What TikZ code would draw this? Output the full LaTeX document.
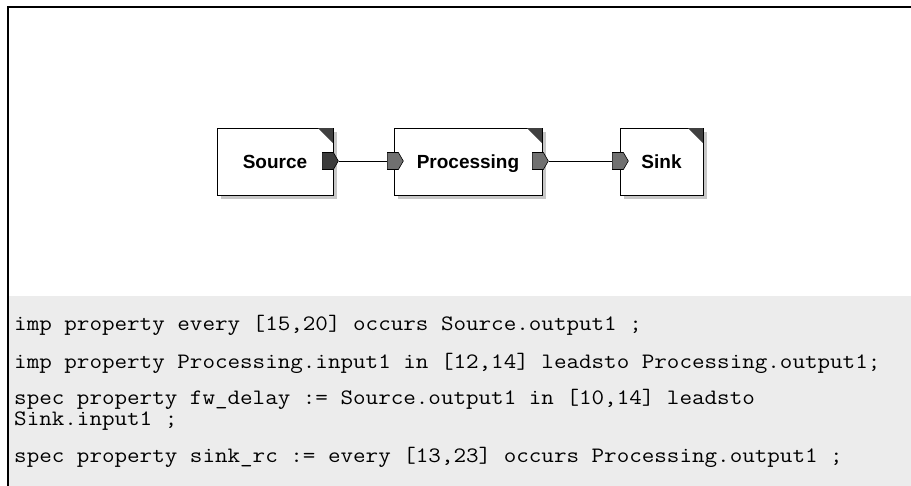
\documentclass[tikz,border=0pt]{standalone}
\usepackage{fontspec}
\usepackage{graphicx}
\setmainfont{Liberation Sans}
\usetikzlibrary{shapes.symbols,shadows}
\definecolor{panelgrey}{HTML}{ECECEC}
\definecolor{portdark}{HTML}{3C3C3C}
\definecolor{portmid}{HTML}{707070}
\definecolor{cornergrey}{HTML}{404040}
% typewriter text, widened to a 12.8pt character pitch
\newcommand{\codetext}[1]{\scalebox{1.108}[1]{\ttfamily\fontsize{22}{22}\selectfont #1}}
\begin{document}
\begin{tikzpicture}[x=1pt,y=-1pt,
  block/.style={draw=black,line width=0.9pt,fill=white,minimum width=#1,
    minimum height=67pt,inner sep=0pt,text depth=0pt,
    font=\bfseries\fontsize{19}{20}\selectfont,
    drop shadow={shadow xshift=4pt,shadow yshift=-4pt,fill=black!22,opacity=1}},
  port/.style={shape=signal,signal to=east,signal pointer angle=120,draw=black,
    line width=0.6pt,minimum width=16pt,minimum height=17pt,inner sep=0pt,
    anchor=west,fill=#1},
  wire/.style={draw=black,line width=0.8pt},
  codeline/.style={anchor=base west,inner sep=0pt}]
\useasboundingbox (0,0) rectangle (911,486);
\fill[white] (0,0) rectangle (911,486);

% property panel and frame
\fill[panelgrey] (8,296) rectangle (911,486);
\draw[line width=2pt] (8,486) -- (8,7) -- (911,7);

% blocks
\node[block=116pt] (src)  at (275,161.5) {Source};
\node[block=148pt] (proc) at (468,161.5) {Processing};
\node[block=83pt]  (sink) at (661.5,161.5) {Sink};

% corner marks
\foreach \b in {src,proc,sink}
  \fill[cornergrey] ([xshift=-0.5pt,yshift=-0.5pt]\b.north east) -- ++(-15,0) -- ++(15,15) -- cycle;

% ports
\node[port=portdark] (srcout)  at (322,161) {};
\node[port=portmid]  (procin)  at (387,161) {};
\node[port=portmid]  (procout) at (532,161) {};
\node[port=portmid]  (sinkin)  at (612,161) {};

% connections
\draw[wire] (srcout.east) -- (procin.west);
\draw[wire] (procout.east) -- (sinkin.west);

% properties
\node[codeline] (p1)  at (14,331) {\codetext{imp property every [15,20] occurs Source.output1 ;}};
\node[codeline] (p2)  at (14,369) {\codetext{imp property Processing.input1 in [12,14] leadsto Processing.output1;}};
\node[codeline] (p3a) at (14,405) {\codetext{spec property fw\_delay := Source.output1 in [10,14] leadsto}};
\node[codeline] (p3b) at (14,425) {\codetext{Sink.input1 ;}};
\node[codeline] (p4)  at (14,462) {\codetext{spec property sink\_rc := every [13,23] occurs Processing.output1 ;}};
\end{tikzpicture}
\end{document}
